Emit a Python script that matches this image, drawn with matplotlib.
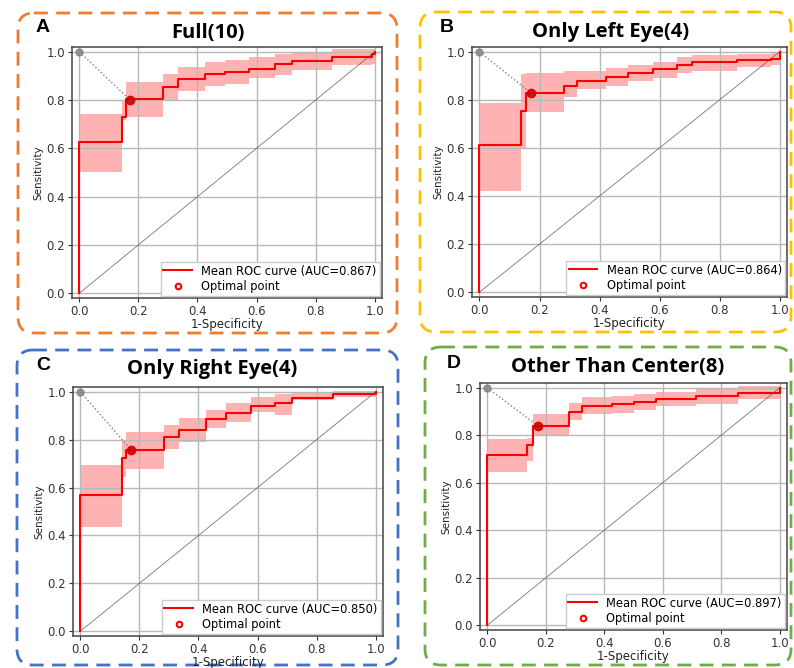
import matplotlib.pyplot as plt
import numpy as np
from matplotlib.patches import FancyBboxPatch
from matplotlib.lines import Line2D

# ---- data (step breakpoints on the FPR axis) ----
titles = ["Full(10)", "Only Left Eye(4)", "Only Right Eye(4)", "Other Than Center(8)"]
letters = ["A", "B", "C", "D"]
aucs = [0.867, 0.864, 0.850, 0.897]

fpr_a = [0, 0.143, 0.157, 0.283, 0.334, 0.425, 0.494, 0.573, 0.662, 0.719, 0.857, 0.99, 1.0]
tpr_a = [0.626, 0.732, 0.805, 0.853, 0.888, 0.908, 0.917, 0.930, 0.950, 0.961, 0.979, 0.99, 1.0]
up_a = [0.743, 0.80, 0.877, 0.908, 0.939, 0.958, 0.968, 0.978, 0.99, 0.995, 1.01, 1.01, 1.01]
lo_a = [0.503, 0.718, 0.728, 0.80, 0.836, 0.857, 0.867, 0.89, 0.905, 0.926, 0.945, 0.95, 0.95]

fpr_b = [0, 0.139, 0.154, 0.282, 0.326, 0.421, 0.494, 0.578, 0.659, 0.709, 0.857, 0.971, 1.0]
tpr_b = [0.611, 0.752, 0.828, 0.858, 0.879, 0.897, 0.913, 0.927, 0.945, 0.957, 0.968, 0.97, 1.0]
up_b = [0.787, 0.909, 0.912, 0.92, 0.922, 0.934, 0.947, 0.957, 0.978, 0.985, 0.99, 0.995, 1.0]
lo_b = [0.423, 0.597, 0.748, 0.81, 0.845, 0.858, 0.879, 0.89, 0.91, 0.92, 0.937, 0.945, 0.945]

fpr_c = [0, 0.142, 0.156, 0.282, 0.333, 0.425, 0.493, 0.577, 0.66, 0.716, 0.854, 1.0]
tpr_c = [0.568, 0.722, 0.757, 0.81, 0.841, 0.886, 0.913, 0.942, 0.954, 0.975, 0.989, 1.0]
up_c = [0.696, 0.795, 0.834, 0.86, 0.892, 0.924, 0.954, 0.979, 0.989, 0.995, 1.005, 1.005]
lo_c = [0.434, 0.644, 0.678, 0.761, 0.789, 0.848, 0.874, 0.915, 0.905, 0.965, 0.978, 0.978]

fpr_d = [0, 0.136, 0.156, 0.281, 0.324, 0.428, 0.5, 0.576, 0.713, 0.859, 0.985, 1.0]
tpr_d = [0.716, 0.759, 0.838, 0.899, 0.922, 0.932, 0.938, 0.954, 0.966, 0.978, 0.98, 1.0]
up_d = [0.785, 0.79, 0.89, 0.937, 0.962, 0.965, 0.972, 0.983, 0.997, 1.007, 1.007, 1.007]
lo_d = [0.647, 0.69, 0.796, 0.864, 0.89, 0.895, 0.905, 0.922, 0.93, 0.951, 0.951, 0.951]

opt_x = [0.172, 0.172, 0.172, 0.172]
opt_y = [0.80, 0.828, 0.757, 0.84]

curves = [(fpr_a, tpr_a, up_a, lo_a), (fpr_b, tpr_b, up_b, lo_b),
          (fpr_c, tpr_c, up_c, lo_c), (fpr_d, tpr_d, up_d, lo_d)]

# layout in pixels (left, top, right, bottom) of each axes
W, H = 794, 668
ax_px = [(72, 47, 382, 298), (472, 47, 787, 297), (73, 387, 383, 636), (480, 383, 787, 630)]
frames = [(18, 13, 397, 333), (420, 12, 791, 332), (17, 350, 398, 665), (425, 347, 791, 665)]
frame_colors = ["#ED7D31", "#FFC000", "#4472C4", "#70AD47"]
title_pos = [(208, 33), (611, 32), (212, 369), (618, 367)]
letter_pos = [(43, 27), (447, 27), (43, 365), (454, 363)]

fig = plt.figure(figsize=(W / 100, H / 100), dpi=100)

# background layer in pixel coordinates for frames / titles
bg = fig.add_axes([0, 0, 1, 1])
bg.set_xlim(0, W)
bg.set_ylim(H, 0)
bg.axis("off")

for i in range(4):
    x0, y0, x1, y1 = frames[i]
    box = FancyBboxPatch((x0, y0), x1 - x0, y1 - y0,
                         boxstyle="round,pad=0,rounding_size=16",
                         fill=False, edgecolor=frame_colors[i], linewidth=2,
                         linestyle=(0, (5, 3)))
    bg.add_patch(box)
    bg.text(title_pos[i][0], title_pos[i][1], titles[i], ha="center", va="center",
            fontsize=14.5, fontweight="bold", family="Open Sans")
    bg.text(letter_pos[i][0], letter_pos[i][1], letters[i], ha="center", va="center",
            fontsize=14, fontweight="bold", family="Liberation Sans")

for i in range(4):
    l, t, r, b = ax_px[i]
    ax = fig.add_axes([l / W, (H - b) / H, (r - l) / W, (b - t) / H])
    fpr, tpr, up, lo = curves[i]

    ax.plot([0, 1], [0, 1], color="#555555", lw=0.6, alpha=0.8)
    ax.fill_between(fpr, lo, up, step="post", color="red", alpha=0.3, lw=0)
    ax.step([0] + fpr, [0] + tpr, where="post", color="red", lw=1.5)
    ax.plot([0, opt_x[i]], [1, opt_y[i]], ls=":", color="gray", lw=1)
    ax.plot(0, 1, "o", color="gray", ms=5, alpha=0.8)
    ax.plot(opt_x[i], opt_y[i], "o", color="#d00000", ms=6, alpha=0.9)

    ax.set_xlim(-0.025, 1.025)
    ax.set_ylim(-0.02, 1.02)
    ax.set_xticks(np.arange(0, 1.01, 0.2))
    ax.set_yticks(np.arange(0, 1.01, 0.2))
    ax.tick_params(labelsize=8.5, colors="#333333", length=3, pad=2)
    ax.grid(True, color="#b8b8b8", lw=1)
    ax.set_xlabel("1-Specificity", fontsize=8.5, labelpad=0, color="#222222")
    ax.set_ylabel("Sensitivity", fontsize=7.5, labelpad=2, color="#222222")
    for s in ax.spines.values():
        s.set_color("#444444")
        s.set_linewidth(1.1)

    handles = [Line2D([], [], color="red", lw=1.5),
               Line2D([], [], marker="o", ls="", mfc="none", mec="red", mew=1.5, ms=4)]
    ax.legend(handles, ["Mean ROC curve (AUC=%.3f)" % aucs[i], "Optimal point"],
              loc="lower right", fontsize=8.3, handlelength=2.5, borderpad=0.25,
              labelspacing=0.2, framealpha=1, fancybox=False, edgecolor="#cccccc",
              borderaxespad=0.2)

fig.savefig("out.png", dpi=100)
